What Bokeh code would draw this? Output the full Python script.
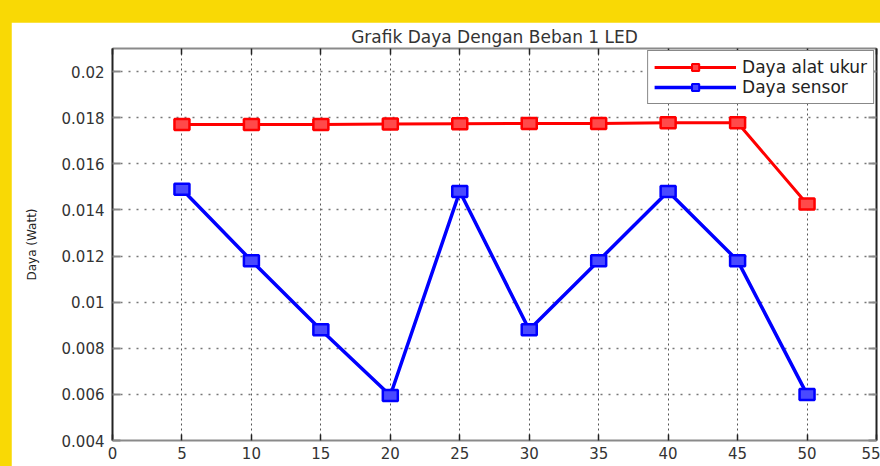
from bokeh.plotting import figure
from bokeh.models import Range1d, LinearAxis, FixedTicker, Label, Legend, LegendItem
from bokeh.embed import file_html
from bokeh.resources import INLINE

# ---- data ----
waktu = [5, 10, 15, 20, 25, 30, 35, 40, 45, 50]
daya_alat_ukur = [0.0177, 0.0177, 0.0177, 0.01773, 0.01774, 0.01775, 0.01775, 0.01778, 0.01778, 0.01426]
daya_sensor = [0.0149, 0.0118, 0.0088, 0.00595, 0.0148, 0.0088, 0.0118, 0.0148, 0.0118, 0.0060]

x_ticks = [0, 5, 10, 15, 20, 25, 30, 35, 40, 45, 50, 55]
y_ticks = [0.004, 0.006, 0.008, 0.01, 0.012, 0.014, 0.016, 0.018, 0.02]
y_tick_labels = ["0.004", "0.006", "0.008", "0.01", "0.012", "0.014", "0.016", "0.018", "0.02"]

title_text = "Grafik Daya Dengan Beban 1 LED"
x_label = "Time (Detik)"
y_label = "Daya (Watt)"
series_labels = ["Daya alat ukur", "Daya sensor"]

FONT = "DejaVu Sans"
BG = "#F9D905"

p = figure(width=869, height=444, output_backend="svg", toolbar_location=None,
           x_range=Range1d(0, 55), y_range=Range1d(0.004, 0.021),
           min_border_left=101, min_border_right=4, min_border_top=26, min_border_bottom=26,
           title=title_text, background_fill_color="white", border_fill_color="white")
p.margin = (22, 0, 0, 11)
p.outline_line_color = None

p.title.text_font = FONT
p.title.text_font_size = "17px"
p.title.text_font_style = "normal"
p.title.text_color = "#333333"
p.title.align = "center"
p.title.standoff = 4

# top and right tick-only axes (labels not drawn)
top_axis = LinearAxis(major_label_text_font_size="1px", major_label_text_color=None, major_label_standoff=0)
right_axis = LinearAxis(major_label_text_font_size="1px", major_label_text_color=None, major_label_standoff=0)
p.add_layout(top_axis, "above")
p.add_layout(right_axis, "right")

for ax in p.xaxis:
    ax.ticker = FixedTicker(ticks=x_ticks)
    ax.major_tick_in = 6
    ax.major_tick_out = 0
    ax.minor_tick_in = 0
    ax.minor_tick_out = 0
    ax.major_tick_line_color = "#222222"
    ax.major_tick_line_width = 1.5
    ax.axis_line_color = "#8a8a8a"
    ax.axis_line_width = 2

for ax in p.yaxis:
    ax.ticker = FixedTicker(ticks=y_ticks)
    ax.major_tick_in = 8
    ax.major_tick_out = 0
    ax.minor_tick_in = 0
    ax.minor_tick_out = 0
    ax.major_tick_line_color = "#8a8a8a"
    ax.major_tick_line_width = 2
    ax.axis_line_color = "#222222"
    ax.axis_line_width = 2

bx = [a for a in p.xaxis if a is not top_axis][0]
ly = [a for a in p.yaxis if a is not right_axis][0]
bx.major_label_text_font = FONT
bx.major_label_text_color = "#333333"
bx.major_label_text_font_size = "15px"
bx.major_label_standoff = 6
ly.major_label_overrides = dict(zip(y_ticks, y_tick_labels))
ly.major_label_text_font = FONT
ly.major_label_text_color = "#333333"
ly.major_label_text_font_size = "15px"
ly.major_label_standoff = 8
ly.axis_label = y_label
ly.axis_label_text_font = FONT
ly.axis_label_text_font_size = "12px"
ly.axis_label_text_font_style = "normal"
ly.axis_label_text_color = "#222222"
ly.axis_label_standoff = 20

p.xgrid.ticker = FixedTicker(ticks=x_ticks)
p.ygrid.ticker = FixedTicker(ticks=y_ticks)
p.xgrid.grid_line_color = "#555555"
p.xgrid.grid_line_dash = "2 3"
p.xgrid.grid_line_width = 1
p.ygrid.grid_line_color = "#777777"
p.ygrid.grid_line_dash = "2 6"
p.ygrid.grid_line_width = 1.5

# series
r1 = p.line(waktu, daya_alat_ukur, line_color="#FF0000", line_width=3)
s1 = p.scatter(waktu, daya_alat_ukur, marker="square", size=9, fill_color="#FF4A4A", line_color="#FF0000", line_width=2)
p.rect(waktu, daya_alat_ukur, width=15, height=11, width_units="screen", height_units="screen",
       fill_color="#FF4A4A", line_color="#FF0000", line_width=2.5)

r2 = p.line(waktu, daya_sensor, line_color="#0000FF", line_width=3.5)
s2 = p.scatter(waktu, daya_sensor, marker="square", size=9, fill_color="#4A4AFF", line_color="#0000FF", line_width=2)
p.rect(waktu, daya_sensor, width=15, height=11, width_units="screen", height_units="screen",
       fill_color="#4A4AFF", line_color="#0000FF", line_width=2.5)

legend = Legend(items=[LegendItem(label=series_labels[0], renderers=[r1, s1]),
                       LegendItem(label=series_labels[1], renderers=[r2, s2])],
                location="top_right", margin=2, padding=6, spacing=0,
                glyph_width=82, glyph_height=18, label_height=18, label_standoff=6,
                label_text_font=FONT, label_text_font_size="17px", label_text_color="#222222",
                border_line_color="#111111", border_line_width=1.5,
                background_fill_color="white", background_fill_alpha=1)
p.add_layout(legend)

# x axis label, cut by the bottom edge as in the reference
p.add_layout(Label(x=27.5, y=0.004 - 0.00098, x_units="data", y_units="data",
                   text=x_label, text_align="center", text_baseline="top",
                   text_font=FONT, text_font_size="14px", text_color="#333333"))

html = file_html(p, INLINE, title=title_text)
html = html.replace("</head>", "<style>html,body{background:%s;margin:0;padding:0;overflow:hidden}</style></head>" % BG, 1)
open("out.html", "w").write(html)
